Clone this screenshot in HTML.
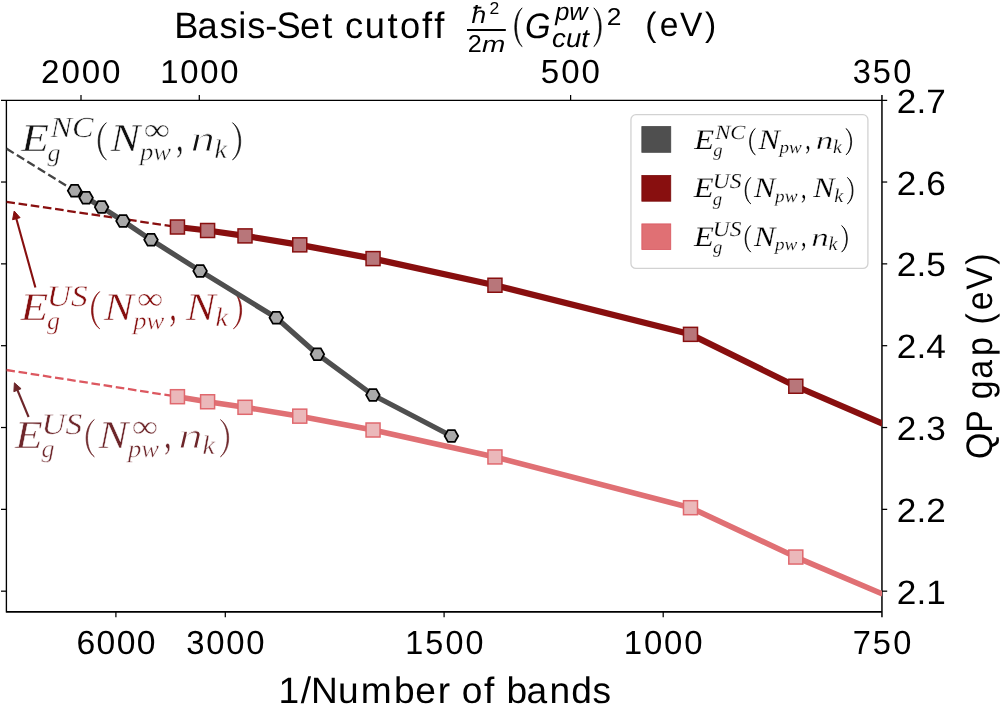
<!DOCTYPE html>
<html><head><meta charset="utf-8"><title>QP gap convergence</title>
<style>
html,body{margin:0;padding:0;background:#fff;width:1000px;height:707px;overflow:hidden}
svg{display:block;will-change:transform}
text{font-kerning:none;font-variant-ligatures:none;text-rendering:geometricPrecision}
</style></head><body>
<svg width="1000" height="707" viewBox="0 0 1000 707"><g stroke="#000" stroke-width="1.25" fill="none" stroke-linecap="butt">
<line x1="1" y1="100.35" x2="887.2" y2="100.35" stroke-width="1.35"/>
<line x1="6.4" y1="100.2" x2="6.4" y2="612.6" stroke-width="1.35"/>
<line x1="881.95" y1="95" x2="881.95" y2="617.2" stroke-width="1.5"/>
<line x1="6.4" y1="611.85" x2="882" y2="611.85" stroke-width="1.6"/>
<line x1="1" y1="182.03" x2="6.4" y2="182.03"/>
<line x1="882" y1="182.03" x2="887.2" y2="182.03"/>
<line x1="1" y1="263.86" x2="6.4" y2="263.86"/>
<line x1="882" y1="263.86" x2="887.2" y2="263.86"/>
<line x1="1" y1="345.69" x2="6.4" y2="345.69"/>
<line x1="882" y1="345.69" x2="887.2" y2="345.69"/>
<line x1="1" y1="427.52" x2="6.4" y2="427.52"/>
<line x1="882" y1="427.52" x2="887.2" y2="427.52"/>
<line x1="1" y1="509.35" x2="6.4" y2="509.35"/>
<line x1="882" y1="509.35" x2="887.2" y2="509.35"/>
<line x1="1" y1="591.18" x2="6.4" y2="591.18"/>
<line x1="882" y1="591.18" x2="887.2" y2="591.18"/>
<line x1="81" y1="95" x2="81" y2="100.2"/>
<line x1="199.3" y1="95" x2="199.3" y2="100.2"/>
<line x1="570.6" y1="95" x2="570.6" y2="100.2"/>
<line x1="115.9" y1="611.8" x2="115.9" y2="617.2"/>
<line x1="225.3" y1="611.8" x2="225.3" y2="617.2"/>
<line x1="444.1" y1="611.8" x2="444.1" y2="617.2"/>
<line x1="663.2" y1="611.8" x2="663.2" y2="617.2"/>
</g>
<text transform="translate(21.24 150.78) scale(1.1492 1)" style="font-family:'Liberation Serif',serif;font-style:italic;font-size:39.5px" fill="#111" stroke="#fff" stroke-width="0.45">E</text>
<text transform="translate(47.61 160.53) scale(1.0380 1)" style="font-family:'Liberation Serif',serif;font-style:italic;font-size:25.08px" fill="#111" stroke="#fff" stroke-width="0.45">g</text>
<text transform="translate(50.44 137.23) scale(1.1115 1)" style="font-family:'Liberation Serif',serif;font-style:italic;font-size:29.04px" fill="#111" stroke="#fff" stroke-width="0.45">NC</text>
<path d="M106.39 122.73 C95.47 130.3 95.47 152.32 106.39 159.9 C97.34 152.32 97.34 130.3 106.39 122.73Z" fill="#111" stroke="#111" stroke-width="0.7" stroke-linejoin="round"/>
<text transform="translate(110.6 150.78) scale(1.1248 1)" style="font-family:'Liberation Serif',serif;font-style:italic;font-size:39.5px" fill="#111" stroke="#fff" stroke-width="0.45">N</text>
<text transform="translate(143.69 139.71) scale(1.1696 1)" style="font-family:'Liberation Serif',serif;font-style:normal;font-size:31.53px" fill="#111" stroke="#fff" stroke-width="0.45">∞</text>
<text transform="translate(139.94 160.32) scale(1.0821 1)" style="font-family:'Liberation Serif',serif;font-style:italic;font-size:24.67px" fill="#111" stroke="#fff" stroke-width="0.45">pw</text>
<text transform="translate(175.98 151.23) scale(0.6876 1)" style="font-family:'Liberation Serif',serif;font-style:normal;font-size:44.77px" fill="#111" stroke="#fff" stroke-width="0.45">,</text>
<text transform="translate(190.38 151.2) scale(1.3461 1)" style="font-family:'Liberation Serif',serif;font-style:italic;font-size:36.41px" fill="#111" stroke="#fff" stroke-width="0.9">n</text>
<text transform="translate(214.43 157.52) scale(1.0389 1)" style="font-family:'Liberation Serif',serif;font-style:italic;font-size:26.93px" fill="#111" stroke="#fff" stroke-width="0.45">k</text>
<path d="M232.5 122.73 C243.43 130.3 243.43 152.32 232.5 159.9 C241.56 152.32 241.56 130.3 232.5 122.73Z" fill="#111" stroke="#111" stroke-width="0.7" stroke-linejoin="round"/>
<text transform="translate(20.54 319.67) scale(1.1492 1)" style="font-family:'Liberation Serif',serif;font-style:italic;font-size:39.47px" fill="#860f0f" stroke="#fff" stroke-width="0.45">E</text>
<text transform="translate(46.88 329.41) scale(1.0380 1)" style="font-family:'Liberation Serif',serif;font-style:italic;font-size:25.07px" fill="#860f0f" stroke="#fff" stroke-width="0.45">g</text>
<text transform="translate(46.84 306.21) scale(1.1185 1)" style="font-family:'Liberation Serif',serif;font-style:italic;font-size:29.77px" fill="#860f0f" stroke="#fff" stroke-width="0.45">US</text>
<path d="M99.74 291.64 C88.83 299.21 88.83 321.21 99.74 328.78 C90.69 321.21 90.69 299.21 99.74 291.64Z" fill="#860f0f" stroke="#860f0f" stroke-width="0.7" stroke-linejoin="round"/>
<text transform="translate(103.94 319.67) scale(1.1248 1)" style="font-family:'Liberation Serif',serif;font-style:italic;font-size:39.47px" fill="#860f0f" stroke="#fff" stroke-width="0.45">N</text>
<text transform="translate(137.01 308.61) scale(1.1696 1)" style="font-family:'Liberation Serif',serif;font-style:normal;font-size:31.51px" fill="#860f0f" stroke="#fff" stroke-width="0.45">∞</text>
<text transform="translate(133.26 329.2) scale(1.0821 1)" style="font-family:'Liberation Serif',serif;font-style:italic;font-size:24.65px" fill="#860f0f" stroke="#fff" stroke-width="0.45">pw</text>
<text transform="translate(169.27 320.12) scale(0.6876 1)" style="font-family:'Liberation Serif',serif;font-style:normal;font-size:44.74px" fill="#860f0f" stroke="#fff" stroke-width="0.45">,</text>
<text transform="translate(186.12 319.67) scale(1.1248 1)" style="font-family:'Liberation Serif',serif;font-style:italic;font-size:39.47px" fill="#860f0f" stroke="#fff" stroke-width="0.45">N</text>
<text transform="translate(215.38 326.4) scale(1.0389 1)" style="font-family:'Liberation Serif',serif;font-style:italic;font-size:26.91px" fill="#860f0f" stroke="#fff" stroke-width="0.45">k</text>
<path d="M233.44 291.64 C244.35 299.21 244.35 321.21 233.44 328.78 C242.48 321.21 242.48 299.21 233.44 291.64Z" fill="#860f0f" stroke="#860f0f" stroke-width="0.7" stroke-linejoin="round"/>
<text transform="translate(15.07 447.67) scale(1.1492 1)" style="font-family:'Liberation Serif',serif;font-style:italic;font-size:39.5px" fill="#6d262a" stroke="#fff" stroke-width="0.45">E</text>
<text transform="translate(41.44 457.42) scale(1.0380 1)" style="font-family:'Liberation Serif',serif;font-style:italic;font-size:25.09px" fill="#6d262a" stroke="#fff" stroke-width="0.45">g</text>
<text transform="translate(41.44 434.21) scale(1.1185 1)" style="font-family:'Liberation Serif',serif;font-style:italic;font-size:29.77px" fill="#6d262a" stroke="#fff" stroke-width="0.45">US</text>
<path d="M94.34 419.62 C83.42 427.19 83.42 449.21 94.34 456.78 C85.28 449.21 85.28 427.19 94.34 419.62Z" fill="#6d262a" stroke="#6d262a" stroke-width="0.7" stroke-linejoin="round"/>
<text transform="translate(98.55 447.67) scale(1.1248 1)" style="font-family:'Liberation Serif',serif;font-style:italic;font-size:39.5px" fill="#6d262a" stroke="#fff" stroke-width="0.45">N</text>
<text transform="translate(131.64 436.6) scale(1.1696 1)" style="font-family:'Liberation Serif',serif;font-style:normal;font-size:31.54px" fill="#6d262a" stroke="#fff" stroke-width="0.45">∞</text>
<text transform="translate(127.89 457.21) scale(1.0821 1)" style="font-family:'Liberation Serif',serif;font-style:italic;font-size:24.67px" fill="#6d262a" stroke="#fff" stroke-width="0.45">pw</text>
<text transform="translate(163.93 448.12) scale(0.6876 1)" style="font-family:'Liberation Serif',serif;font-style:normal;font-size:44.78px" fill="#6d262a" stroke="#fff" stroke-width="0.45">,</text>
<text transform="translate(178.32 448.09) scale(1.3461 1)" style="font-family:'Liberation Serif',serif;font-style:italic;font-size:36.41px" fill="#6d262a" stroke="#fff" stroke-width="0.9">n</text>
<text transform="translate(202.38 454.4) scale(1.0389 1)" style="font-family:'Liberation Serif',serif;font-style:italic;font-size:26.93px" fill="#6d262a" stroke="#fff" stroke-width="0.45">k</text>
<path d="M220.45 419.62 C231.38 427.19 231.38 449.21 220.45 456.78 C229.51 449.21 229.51 427.19 220.45 419.62Z" fill="#6d262a" stroke="#6d262a" stroke-width="0.7" stroke-linejoin="round"/>
<line x1="35.4" y1="287.5" x2="16.07" y2="217.75" stroke="#860f0f" stroke-width="2.1"/>
<polygon points="14.2,211 20.09,217.67 12.58,219.75" fill="#860f0f" stroke="#860f0f" stroke-width="1" stroke-linejoin="round"/>
<line x1="28.6" y1="417" x2="17.08" y2="389.26" stroke="#6d262a" stroke-width="2.1"/>
<polygon points="14.4,382.8 21.07,388.69 13.87,391.68" fill="#6d262a" stroke="#6d262a" stroke-width="1" stroke-linejoin="round"/>
<defs><clipPath id="ax"><rect x="6.4" y="100.2" width="875.6" height="511.6"/></clipPath></defs>
<g clip-path="url(#ax)" fill="none">
<line x1="6.4" y1="148.6" x2="74.6" y2="190.8" stroke="#444" stroke-width="2.3" stroke-dasharray="8.6 3.7"/>
<line x1="6.4" y1="201.8" x2="177.45" y2="227" stroke="#880f0f" stroke-width="2.3" stroke-dasharray="8.6 3.7"/>
<line x1="6.4" y1="370.0" x2="177.45" y2="396.7" stroke="#dc5860" stroke-width="2.3" stroke-dasharray="8.6 3.7"/>
<polyline points="177.45,227 207.6,230.5 245,235.9 299.75,244.85 373.05,258.6 494.95,285.25 690.5,334.35 795.8,386.25 882.5,423.6" stroke="#880f0f" stroke-width="6.2" stroke-linejoin="round"/>
<polyline points="177.45,396.7 207.6,401.75 245,407.3 299.75,416.15 373.05,430 494.95,456.95 690.5,507.7 795.8,557.05 882.5,594" stroke="#e07074" stroke-width="5.6" stroke-linejoin="round"/>
<polyline points="74.6,190.8 86.1,197.8 101.6,207.1 123,221 151,239.8 200.1,270.9 276.3,317.8 317.4,354.2 372.9,395 451.4,436" stroke="#4f4f4f" stroke-width="5.2" stroke-linejoin="round"/>
<polygon points="67.8,190.8 71.2,184.91 78,184.91 81.4,190.8 78,196.69 71.2,196.69" fill="#a9a9a9" stroke="#000" stroke-width="1.75"/>
<polygon points="79.3,197.8 82.7,191.91 89.5,191.91 92.9,197.8 89.5,203.69 82.7,203.69" fill="#a9a9a9" stroke="#000" stroke-width="1.75"/>
<polygon points="94.8,207.1 98.2,201.21 105,201.21 108.4,207.1 105,212.99 98.2,212.99" fill="#a9a9a9" stroke="#000" stroke-width="1.75"/>
<polygon points="116.2,221 119.6,215.11 126.4,215.11 129.8,221 126.4,226.89 119.6,226.89" fill="#a9a9a9" stroke="#000" stroke-width="1.75"/>
<polygon points="144.2,239.8 147.6,233.91 154.4,233.91 157.8,239.8 154.4,245.69 147.6,245.69" fill="#a9a9a9" stroke="#000" stroke-width="1.75"/>
<polygon points="193.3,270.9 196.7,265.01 203.5,265.01 206.9,270.9 203.5,276.79 196.7,276.79" fill="#a9a9a9" stroke="#000" stroke-width="1.75"/>
<polygon points="269.5,317.8 272.9,311.91 279.7,311.91 283.1,317.8 279.7,323.69 272.9,323.69" fill="#a9a9a9" stroke="#000" stroke-width="1.75"/>
<polygon points="310.6,354.2 314,348.31 320.8,348.31 324.2,354.2 320.8,360.09 314,360.09" fill="#a9a9a9" stroke="#000" stroke-width="1.75"/>
<polygon points="366.1,395 369.5,389.11 376.3,389.11 379.7,395 376.3,400.89 369.5,400.89" fill="#a9a9a9" stroke="#000" stroke-width="1.75"/>
<polygon points="444.6,436 448,430.11 454.8,430.11 458.2,436 454.8,441.89 448,441.89" fill="#a9a9a9" stroke="#000" stroke-width="1.75"/>
<rect x="170.45" y="220" width="14" height="14" fill="#b8767a" stroke="#880f0f" stroke-width="1.5"/>
<rect x="200.6" y="223.5" width="14" height="14" fill="#b8767a" stroke="#880f0f" stroke-width="1.5"/>
<rect x="238" y="228.9" width="14" height="14" fill="#b8767a" stroke="#880f0f" stroke-width="1.5"/>
<rect x="292.75" y="237.85" width="14" height="14" fill="#b8767a" stroke="#880f0f" stroke-width="1.5"/>
<rect x="366.05" y="251.6" width="14" height="14" fill="#b8767a" stroke="#880f0f" stroke-width="1.5"/>
<rect x="487.95" y="278.25" width="14" height="14" fill="#b8767a" stroke="#880f0f" stroke-width="1.5"/>
<rect x="683.5" y="327.35" width="14" height="14" fill="#b8767a" stroke="#880f0f" stroke-width="1.5"/>
<rect x="788.8" y="379.25" width="14" height="14" fill="#b8767a" stroke="#880f0f" stroke-width="1.5"/>
<rect x="170.45" y="389.7" width="14" height="14" fill="#ebb8ba" stroke="#e0686e" stroke-width="1.5"/>
<rect x="200.6" y="394.75" width="14" height="14" fill="#ebb8ba" stroke="#e0686e" stroke-width="1.5"/>
<rect x="238" y="400.3" width="14" height="14" fill="#ebb8ba" stroke="#e0686e" stroke-width="1.5"/>
<rect x="292.75" y="409.15" width="14" height="14" fill="#ebb8ba" stroke="#e0686e" stroke-width="1.5"/>
<rect x="366.05" y="423" width="14" height="14" fill="#ebb8ba" stroke="#e0686e" stroke-width="1.5"/>
<rect x="487.95" y="449.95" width="14" height="14" fill="#ebb8ba" stroke="#e0686e" stroke-width="1.5"/>
<rect x="683.5" y="500.7" width="14" height="14" fill="#ebb8ba" stroke="#e0686e" stroke-width="1.5"/>
<rect x="788.8" y="550.05" width="14" height="14" fill="#ebb8ba" stroke="#e0686e" stroke-width="1.5"/>
</g>
<rect x="630.95" y="114.65" width="236.95" height="153.75" rx="5" ry="5" fill="#fff" fill-opacity="0.85" stroke="#d2d2d2" stroke-width="1.3"/>
<rect x="641.85" y="126.6" width="28.9" height="25.7" fill="#4f4f4f" stroke="#454545" stroke-width="0.8"/>
<rect x="641.85" y="175.5" width="28.9" height="25.7" fill="#880f0f" stroke="#7a0a0a" stroke-width="0.8"/>
<rect x="641.85" y="223.9" width="28.9" height="25.6" fill="#e07074" stroke="#d9565e" stroke-width="0.8"/>
<text transform="translate(694.29 148.51) scale(1.1492 1)" style="font-family:'Liberation Serif',serif;font-style:italic;font-size:28.34px" fill="#000" stroke="#fff" stroke-width="0.2">E</text>
<text transform="translate(713.21 155.51) scale(1.0380 1)" style="font-family:'Liberation Serif',serif;font-style:italic;font-size:18px" fill="#000" stroke="#fff" stroke-width="0.2">g</text>
<text transform="translate(715.17 138.71) scale(1.1268 1)" style="font-family:'Liberation Serif',serif;font-style:italic;font-size:20.11px" fill="#000" stroke="#fff" stroke-width="0.2">NC</text>
<path d="M755.29 128.49 C747.72 133.92 747.72 149.52 755.29 154.95 C748.78 149.52 748.78 133.92 755.29 128.49Z" fill="#000" stroke="#000" stroke-width="0.7" stroke-linejoin="round"/>
<text transform="translate(758.41 148.51) scale(1.1248 1)" style="font-family:'Liberation Serif',serif;font-style:italic;font-size:28.34px" fill="#000" stroke="#fff" stroke-width="0.2">N</text>
<text transform="translate(779.46 153.05) scale(1.0821 1)" style="font-family:'Liberation Serif',serif;font-style:italic;font-size:17.7px" fill="#000" stroke="#fff" stroke-width="0.2">pw</text>
<text transform="translate(805.32 148.84) scale(0.6876 1)" style="font-family:'Liberation Serif',serif;font-style:normal;font-size:32.13px" fill="#000" stroke="#fff" stroke-width="0.2">,</text>
<text transform="translate(815.64 148.82) scale(1.3461 1)" style="font-family:'Liberation Serif',serif;font-style:italic;font-size:26.13px" fill="#000" stroke="#fff" stroke-width="0.4">n</text>
<text transform="translate(832.9 153.35) scale(1.0389 1)" style="font-family:'Liberation Serif',serif;font-style:italic;font-size:19.32px" fill="#000" stroke="#fff" stroke-width="0.2">k</text>
<path d="M845.97 128.49 C853.54 133.92 853.54 149.52 845.97 154.95 C852.48 149.52 852.48 133.92 845.97 128.49Z" fill="#000" stroke="#000" stroke-width="0.7" stroke-linejoin="round"/>
<text transform="translate(693.86 197.47) scale(1.1492 1)" style="font-family:'Liberation Serif',serif;font-style:italic;font-size:28.44px" fill="#000" stroke="#fff" stroke-width="0.2">E</text>
<text transform="translate(712.84 204.5) scale(1.0380 1)" style="font-family:'Liberation Serif',serif;font-style:italic;font-size:18.06px" fill="#000" stroke="#fff" stroke-width="0.2">g</text>
<text transform="translate(712.85 187.59) scale(1.1083 1)" style="font-family:'Liberation Serif',serif;font-style:italic;font-size:21.13px" fill="#000" stroke="#fff" stroke-width="0.2">US</text>
<path d="M750.83 177.38 C743.23 182.83 743.23 198.49 750.83 203.94 C744.29 198.49 744.29 182.83 750.83 177.38Z" fill="#000" stroke="#000" stroke-width="0.7" stroke-linejoin="round"/>
<text transform="translate(753.96 197.47) scale(1.1248 1)" style="font-family:'Liberation Serif',serif;font-style:italic;font-size:28.44px" fill="#000" stroke="#fff" stroke-width="0.2">N</text>
<text transform="translate(775.08 202.03) scale(1.0821 1)" style="font-family:'Liberation Serif',serif;font-style:italic;font-size:17.76px" fill="#000" stroke="#fff" stroke-width="0.2">pw</text>
<text transform="translate(801.03 197.8) scale(0.6876 1)" style="font-family:'Liberation Serif',serif;font-style:normal;font-size:32.24px" fill="#000" stroke="#fff" stroke-width="0.2">,</text>
<text transform="translate(813.16 197.47) scale(1.1248 1)" style="font-family:'Liberation Serif',serif;font-style:italic;font-size:28.44px" fill="#000" stroke="#fff" stroke-width="0.2">N</text>
<text transform="translate(834.25 202.32) scale(1.0389 1)" style="font-family:'Liberation Serif',serif;font-style:italic;font-size:19.39px" fill="#000" stroke="#fff" stroke-width="0.2">k</text>
<path d="M847.35 177.38 C854.96 182.83 854.96 198.49 847.35 203.94 C853.89 198.49 853.89 182.83 847.35 177.38Z" fill="#000" stroke="#000" stroke-width="0.7" stroke-linejoin="round"/>
<text transform="translate(693.93 245.64) scale(1.1492 1)" style="font-family:'Liberation Serif',serif;font-style:italic;font-size:28.39px" fill="#000" stroke="#fff" stroke-width="0.2">E</text>
<text transform="translate(712.88 252.65) scale(1.0380 1)" style="font-family:'Liberation Serif',serif;font-style:italic;font-size:18.03px" fill="#000" stroke="#fff" stroke-width="0.2">g</text>
<text transform="translate(712.85 235.89) scale(1.1083 1)" style="font-family:'Liberation Serif',serif;font-style:italic;font-size:21.13px" fill="#000" stroke="#fff" stroke-width="0.2">US</text>
<path d="M750.81 225.58 C743.22 231.02 743.22 246.65 750.81 252.1 C744.29 246.65 744.29 231.02 750.81 225.58Z" fill="#000" stroke="#000" stroke-width="0.7" stroke-linejoin="round"/>
<text transform="translate(753.93 245.64) scale(1.1248 1)" style="font-family:'Liberation Serif',serif;font-style:italic;font-size:28.39px" fill="#000" stroke="#fff" stroke-width="0.2">N</text>
<text transform="translate(775.02 250.19) scale(1.0821 1)" style="font-family:'Liberation Serif',serif;font-style:italic;font-size:17.73px" fill="#000" stroke="#fff" stroke-width="0.2">pw</text>
<text transform="translate(800.93 245.97) scale(0.6876 1)" style="font-family:'Liberation Serif',serif;font-style:normal;font-size:32.18px" fill="#000" stroke="#fff" stroke-width="0.2">,</text>
<text transform="translate(811.27 245.95) scale(1.3461 1)" style="font-family:'Liberation Serif',serif;font-style:italic;font-size:26.17px" fill="#000" stroke="#fff" stroke-width="0.4">n</text>
<text transform="translate(828.57 250.48) scale(1.0389 1)" style="font-family:'Liberation Serif',serif;font-style:italic;font-size:19.36px" fill="#000" stroke="#fff" stroke-width="0.2">k</text>
<path d="M841.65 225.58 C849.24 231.02 849.24 246.65 841.65 252.1 C848.18 246.65 848.18 231.02 841.65 225.58Z" fill="#000" stroke="#000" stroke-width="0.7" stroke-linejoin="round"/>
<text transform="translate(0 82.58) scale(1.0030 1)" x="40.9 61.44 81.57 101.69" style="font-family:'Liberation Sans',sans-serif;font-style:normal;font-size:33.05px" fill="#000">2000</text>
<text transform="translate(0 82.58) scale(0.9928 1)" x="161.32 181.65 201.8 221.96" style="font-family:'Liberation Sans',sans-serif;font-style:normal;font-size:33.05px" fill="#000">1000</text>
<text transform="translate(0 82.67) scale(0.9916 1)" x="545.34 565.97 586.47" style="font-family:'Liberation Sans',sans-serif;font-style:normal;font-size:33.33px" fill="#000">500</text>
<text transform="translate(0 82.87) scale(0.9695 1)" x="879.51 900.3 921.38" style="font-family:'Liberation Sans',sans-serif;font-style:normal;font-size:33.62px" fill="#000">350</text>
<text transform="translate(0 653.97) scale(1.0103 1)" x="75.62 95.56 115.51 135.46" style="font-family:'Liberation Sans',sans-serif;font-style:normal;font-size:33.33px" fill="#000">6000</text>
<text transform="translate(0 653.97) scale(0.9854 1)" x="188.97 209.25 229.57 249.89" style="font-family:'Liberation Sans',sans-serif;font-style:normal;font-size:33.33px" fill="#000">3000</text>
<text transform="translate(0 653.97) scale(0.9701 1)" x="417.8 438.46 459.22 479.85" style="font-family:'Liberation Sans',sans-serif;font-style:normal;font-size:33.33px" fill="#000">1500</text>
<text transform="translate(0 653.97) scale(0.9883 1)" x="631.12 651.62 671.95 692.28" style="font-family:'Liberation Sans',sans-serif;font-style:normal;font-size:33.33px" fill="#000">1000</text>
<text transform="translate(0 653.97) scale(0.9764 1)" x="873.35 893.94 914.73" style="font-family:'Liberation Sans',sans-serif;font-style:normal;font-size:33.33px" fill="#000">750</text>
<text transform="translate(896.83 112.8) scale(1.0416 1)" style="font-family:'Liberation Sans',sans-serif;font-size:33.8px">2.7</text>
<text transform="translate(896.83 194.63) scale(1.0416 1)" style="font-family:'Liberation Sans',sans-serif;font-size:33.8px">2.6</text>
<text transform="translate(896.83 276.46) scale(1.0416 1)" style="font-family:'Liberation Sans',sans-serif;font-size:33.8px">2.5</text>
<text transform="translate(896.83 358.29) scale(1.0416 1)" style="font-family:'Liberation Sans',sans-serif;font-size:33.8px">2.4</text>
<text transform="translate(896.83 440.12) scale(1.0416 1)" style="font-family:'Liberation Sans',sans-serif;font-size:33.8px">2.3</text>
<text transform="translate(896.83 521.95) scale(1.0416 1)" style="font-family:'Liberation Sans',sans-serif;font-size:33.8px">2.2</text>
<text transform="translate(896.83 603.78) scale(1.0416 1)" style="font-family:'Liberation Sans',sans-serif;font-size:33.8px">2.1</text>
<text transform="translate(0 37.7) scale(0.9877 1)" x="176.45 199.93 222.34 241.18 250.26 268.5 279.94 303.71 326.27 326.27 349.43 369.42 392.45 404.98 427.37 439.68" style="font-family:'Liberation Sans',sans-serif;font-style:normal;font-size:36.77px" fill="#000">Basis-Set cutoff</text>
<text transform="translate(471.56 22.5) scale(1.0686 1)" style="font-family:'Liberation Sans',sans-serif;font-style:italic;font-size:24.84px" fill="#000">ħ</text>
<text transform="translate(489.62 13.5) scale(1.0218 1)" style="font-family:'Liberation Sans',sans-serif;font-style:normal;font-size:17.19px" fill="#000">2</text>
<rect x="467" y="29" width="38.8" height="2" fill="#000"/>
<text transform="translate(467.73 51.5) scale(1.0368 1)" style="font-family:'Liberation Sans',sans-serif;font-style:normal;font-size:24.35px" fill="#000">2</text>
<text transform="translate(482.04 51.5) scale(1.2204 1)" style="font-family:'Liberation Sans',sans-serif;font-style:italic;font-size:22.88px" fill="#000">m</text>
<path d="M522.15 7.85 C512.42 15.75 512.42 38.75 522.15 46.65 C514.55 38.75 514.55 15.75 522.15 7.85Z" fill="#000" stroke="#000" stroke-width="0.7" stroke-linejoin="round"/>
<text transform="translate(524.88 37.66) scale(0.9295 1)" style="font-family:'Liberation Sans',sans-serif;font-style:italic;font-size:35.31px" fill="#000">G</text>
<text transform="translate(555.13 20.35) scale(1.0247 1)" style="font-family:'Liberation Sans',sans-serif;font-style:italic;font-size:24.81px" fill="#000">pw</text>
<text transform="translate(552.09 46.75) scale(1.0691 1)" style="font-family:'Liberation Sans',sans-serif;font-style:italic;font-size:25.9px" fill="#000">cut</text>
<path d="M593.85 7.85 C603.58 15.75 603.58 38.75 593.85 46.65 C601.45 38.75 601.45 15.75 593.85 7.85Z" fill="#000" stroke="#000" stroke-width="0.7" stroke-linejoin="round"/>
<text transform="translate(606.68 24.5) scale(1.0819 1)" style="font-family:'Liberation Sans',sans-serif;font-style:normal;font-size:24.35px" fill="#000">2</text>
<text transform="translate(0 35.5) scale(0.9942 1)" x="649.05 663.55 684.04 709.09" style="font-family:'Liberation Sans',sans-serif;font-style:normal;font-size:33.81px" fill="#000">(eV)</text>
<text transform="translate(0 702.5) scale(1.0095 1)" x="275.84 297.81 308.2 334.84 357.44 390.18 411.44 433.68 433.68 457.33 479.37 479.37 501.8 521.64 544.35 565.8 587.05" style="font-family:'Liberation Sans',sans-serif;font-style:normal;font-size:36.77px" fill="#000">1/Number of bands</text>
<g transform="translate(991.7 457.5) rotate(-90)"><text transform="translate(0 0) scale(0.9159 1)" x="-1.66 27.17 27.17 63.51 85.86 110.94 110.94 145.08 160.86 183.16 210.45" style="font-family:'Liberation Sans',sans-serif;font-style:normal;font-size:36.92px" fill="#000">QP gap (eV)</text></g></svg>
</body></html>
